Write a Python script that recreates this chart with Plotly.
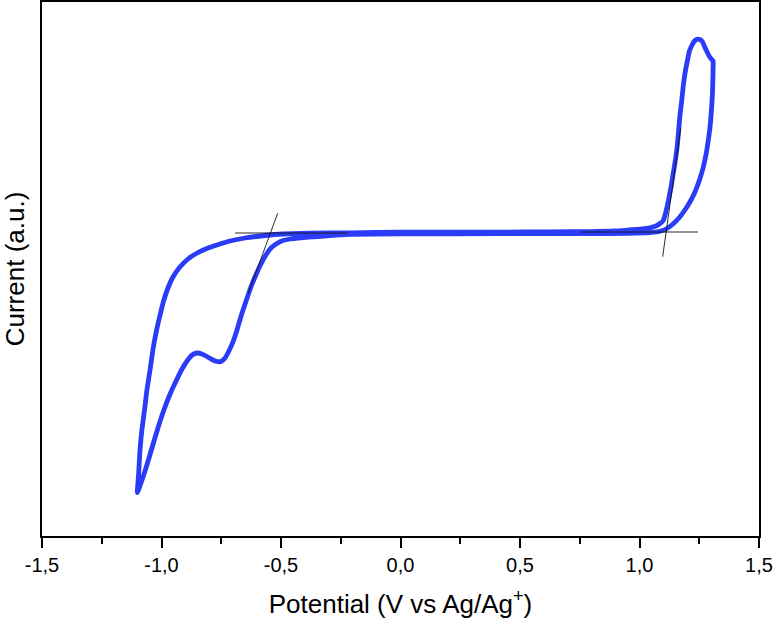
import plotly.graph_objects as go

# Cyclic voltammogram (potential in V vs Ag/Ag+, current in arbitrary units)
potential = [
    # forward anodic sweep
    0.000, 0.416, 0.626, 0.793, 0.897, 0.946, 1.010, 1.044, 1.069, 1.086, 1.098, 1.107,
    1.115, 1.123, 1.132, 1.140, 1.149, 1.157, 1.163, 1.169, 1.177, 1.184, 1.192, 1.201,
    1.209, 1.220, 1.230, 1.241, 1.253, 1.264, 1.274, 1.285, 1.295, 1.308,
    # reverse sweep
    1.308, 1.307, 1.305, 1.301, 1.296, 1.288, 1.278, 1.266, 1.251, 1.232, 1.211, 1.190,
    1.165, 1.140, 1.115, 1.086, 1.044, 0.946, 0.793, 0.416,
    # cathodic forward branch
    0.000, -0.211, -0.295, -0.345, -0.387, -0.429, -0.462, -0.492, -0.517, -0.542, -0.563,
    -0.584, -0.605, -0.626, -0.646, -0.667, -0.684, -0.701, -0.718, -0.734, -0.751, -0.768,
    -0.789, -0.810, -0.831, -0.851, -0.872, -0.893, -0.914, -0.939, -0.964, -0.990, -1.015,
    -1.040, -1.065, -1.086, -1.101,
    # return branch
    -1.096, -1.090, -1.082, -1.071, -1.061, -1.048, -1.036, -1.023, -1.006, -0.990, -0.973,
    -0.952, -0.923, -0.889, -0.851, -0.810, -0.768, -0.713, -0.651, -0.567, -0.492, -0.379,
    -0.211, 0.000,
]
current = [
    0.008, 0.009, 0.011, 0.014, 0.020, 0.028, 0.040, 0.052, 0.070, 0.095, 0.120, 0.180,
    0.260, 0.350, 0.460, 0.580, 0.710, 0.850, 1.000, 1.170, 1.330, 1.490, 1.620, 1.730,
    1.820, 1.880, 1.920, 1.937, 1.935, 1.910, 1.855, 1.800, 1.755, 1.720,
    1.670, 1.530, 1.380, 1.230, 1.080, 0.930, 0.780, 0.650, 0.530, 0.410, 0.310, 0.230,
    0.150, 0.090, 0.045, 0.017, 0.004, -0.003, -0.006, -0.007,
    -0.008, -0.013, -0.025, -0.035, -0.042, -0.050, -0.060, -0.075, -0.105, -0.150, -0.220,
    -0.310, -0.420, -0.540, -0.680, -0.830, -0.970, -1.090, -1.180, -1.250, -1.285, -1.285,
    -1.265, -1.235, -1.210, -1.200, -1.220, -1.280, -1.360, -1.480, -1.610, -1.770, -1.950,
    -2.150, -2.350, -2.500, -2.597,
    -2.420, -2.170, -1.970, -1.770, -1.570, -1.370, -1.170, -1.000, -0.820, -0.670, -0.550,
    -0.440, -0.340, -0.260, -0.200, -0.155, -0.120, -0.080, -0.050, -0.025, -0.010, -0.002,
    0.002, 0.008,
]

# Onset tangent construction lines
cath_base_x = [-0.692, -0.220]
cath_base_y = [0.000, 0.000]
cath_slope_x = [-0.514, -0.637]
cath_slope_y = [0.197, -0.603]
anod_base_x = [0.758, 1.244]
anod_base_y = [0.010, 0.010]
anod_slope_x = [1.097, 1.172]
anod_slope_y = [-0.237, 1.047]

tick_vals = [-1.5, -1.0, -0.5, 0.0, 0.5, 1.0, 1.5]
tick_text = ["-1,5", "-1,0", "-0,5", "0,0", "0,5", "1,0", "1,5"]

FONT = "Liberation Sans, Arial, sans-serif"
BLUE = "#2a3cf7"

fig = go.Figure()
fig.add_trace(go.Scatter(x=potential, y=current, mode="lines",
                         line=dict(color=BLUE, width=4.8, shape="spline", smoothing=0.5),
                         showlegend=False, hoverinfo="skip"))
for xs, ys in [(cath_base_x, cath_base_y), (cath_slope_x, cath_slope_y),
               (anod_base_x, anod_base_y), (anod_slope_x, anod_slope_y)]:
    fig.add_trace(go.Scatter(x=xs, y=ys, mode="lines",
                             line=dict(color="rgba(20,20,20,0.9)", width=1),
                             showlegend=False, hoverinfo="skip"))

fig.update_layout(
    width=773, height=623,
    margin=dict(l=42, r=14, t=2, b=87),
    paper_bgcolor="white", plot_bgcolor="white",
    font=dict(family=FONT, color="black"),
    xaxis=dict(
        range=[-1.5, 1.5], showgrid=False, zeroline=False, automargin=False,
        showline=True, linecolor="black", linewidth=2, mirror=True,
        ticks="outside", ticklen=10, tickwidth=2, tickcolor="black",
        tickvals=tick_vals, ticktext=tick_text,
        tickfont=dict(size=20, family=FONT),
        minor=dict(ticks="outside", ticklen=6, tickwidth=2, tickcolor="black", dtick=0.25, tick0=-1.5),
        title=dict(text="Potential (V vs Ag/Ag<sup>+</sup>)", font=dict(size=26, family=FONT), standoff=20),
    ),
    yaxis=dict(
        range=[-3.03, 2.31], showgrid=False, zeroline=False, automargin=False,
        showline=True, linecolor="black", linewidth=2, mirror=True,
        ticks="", showticklabels=False,
        title=dict(text="Current (a.u.)", font=dict(size=26, family=FONT), standoff=15),
    ),
)

fig.write_html(
    "out.html",
    config={"displayModeBar": False},
    post_script="document.body.style.margin='0';document.body.style.padding='0';",
)
